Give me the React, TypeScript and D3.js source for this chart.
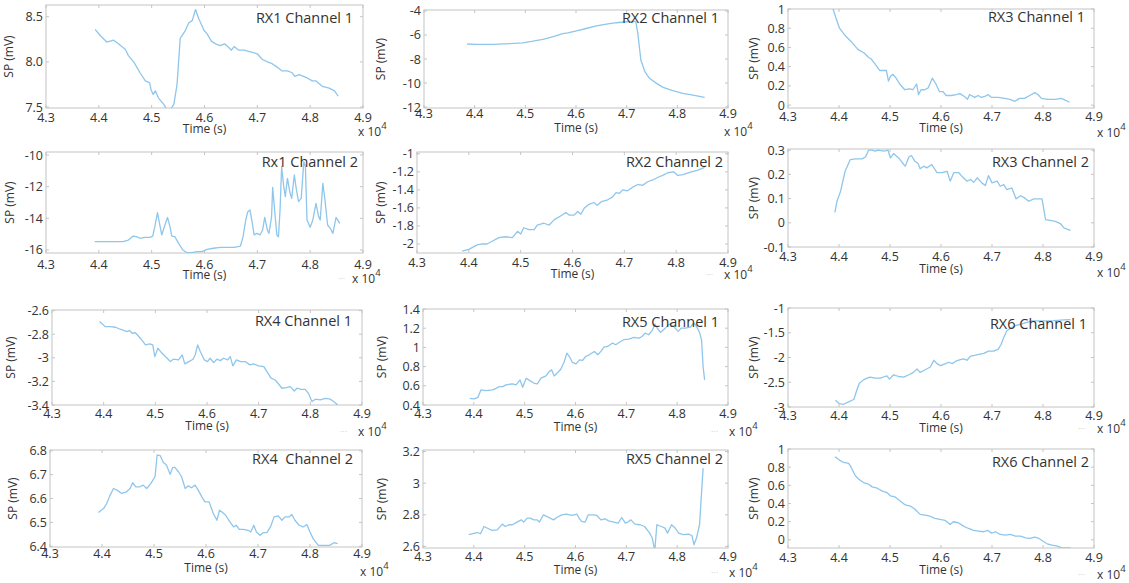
import React from "react";
import * as d3 from "d3";

// time values are in units of 10^4 s
const timeTicks = ["4.3", "4.4", "4.5", "4.6", "4.7", "4.8", "4.9"];

const rx1Ch1: [number, number][] = [
  [4.393, 8.36], [4.403, 8.29], [4.415, 8.22], [4.428, 8.24], [4.437, 8.2], [4.45, 8.14],
  [4.456, 8.07], [4.466, 8.0], [4.478, 7.88], [4.488, 7.79], [4.496, 7.77], [4.499, 7.69],
  [4.503, 7.64], [4.507, 7.68], [4.513, 7.6], [4.523, 7.53], [4.529, 7.47], [4.535, 7.47],
  [4.542, 7.53], [4.548, 7.75], [4.554, 8.26], [4.564, 8.35], [4.57, 8.43], [4.577, 8.46],
  [4.583, 8.58], [4.589, 8.48], [4.599, 8.35], [4.605, 8.31], [4.613, 8.23], [4.621, 8.2],
  [4.63, 8.18], [4.638, 8.2], [4.646, 8.16], [4.651, 8.13], [4.656, 8.17], [4.665, 8.13],
  [4.675, 8.13], [4.687, 8.11], [4.7, 8.09], [4.709, 8.03], [4.719, 8.0], [4.728, 7.98],
  [4.738, 7.94], [4.747, 7.9], [4.757, 7.9], [4.766, 7.88], [4.771, 7.84], [4.779, 7.86],
  [4.792, 7.83], [4.804, 7.79], [4.811, 7.79], [4.823, 7.73], [4.836, 7.71], [4.846, 7.68],
  [4.853, 7.62]
];

const rx2Ch1: [number, number][] = [
  [4.385, -6.75], [4.403, -6.78], [4.436, -6.78], [4.469, -6.72], [4.495, -6.66], [4.515, -6.52],
  [4.535, -6.36], [4.555, -6.14], [4.574, -5.88], [4.584, -5.82], [4.601, -5.66], [4.62, -5.46],
  [4.64, -5.24], [4.66, -5.1], [4.68, -4.98], [4.699, -4.9], [4.712, -4.86], [4.718, -4.89],
  [4.722, -5.86], [4.728, -8.08], [4.736, -9.06], [4.745, -9.61], [4.759, -10.03], [4.772, -10.36],
  [4.791, -10.64], [4.811, -10.86], [4.831, -11.0], [4.854, -11.19]
];

const rx3Ch1: [number, number][] = [
  [4.386, 1.04], [4.395, 0.89], [4.401, 0.8], [4.411, 0.73], [4.424, 0.66], [4.437, 0.58],
  [4.45, 0.54], [4.457, 0.5], [4.463, 0.48], [4.473, 0.41], [4.48, 0.36], [4.486, 0.36],
  [4.493, 0.36], [4.497, 0.25], [4.501, 0.3], [4.506, 0.32], [4.512, 0.28], [4.519, 0.22],
  [4.529, 0.16], [4.538, 0.17], [4.545, 0.16], [4.552, 0.22], [4.556, 0.11], [4.561, 0.16],
  [4.568, 0.16], [4.575, 0.18], [4.583, 0.28], [4.59, 0.22], [4.597, 0.14], [4.604, 0.14],
  [4.61, 0.1], [4.62, 0.1], [4.63, 0.11], [4.637, 0.12], [4.646, 0.09], [4.652, 0.06],
  [4.656, 0.11], [4.666, 0.08], [4.673, 0.1], [4.679, 0.08], [4.686, 0.09], [4.692, 0.11],
  [4.699, 0.08], [4.712, 0.08], [4.725, 0.07], [4.735, 0.06], [4.745, 0.04], [4.754, 0.07],
  [4.764, 0.07], [4.774, 0.1], [4.784, 0.13], [4.79, 0.11], [4.797, 0.07], [4.81, 0.06],
  [4.823, 0.06], [4.836, 0.07], [4.852, 0.03]
];

const rx1Ch2: [number, number][] = [
  [4.392, -15.47], [4.421, -15.47], [4.446, -15.47], [4.456, -15.37], [4.465, -15.12], [4.471, -15.16],
  [4.478, -15.26], [4.487, -15.2], [4.497, -15.2], [4.502, -15.12], [4.506, -14.53], [4.511, -13.64],
  [4.516, -14.53], [4.519, -15.05], [4.524, -14.53], [4.53, -13.94], [4.535, -14.57], [4.538, -15.12],
  [4.544, -15.16], [4.551, -15.58], [4.559, -16.0], [4.567, -16.17], [4.576, -16.17], [4.586, -16.1],
  [4.595, -16.1], [4.605, -15.96], [4.617, -15.89], [4.63, -15.83], [4.643, -15.83], [4.656, -15.83],
  [4.668, -15.75], [4.673, -15.16], [4.678, -14.11], [4.682, -13.58], [4.686, -13.47], [4.69, -14.21],
  [4.694, -15.05], [4.699, -14.95], [4.705, -15.05], [4.71, -14.74], [4.714, -13.94], [4.719, -14.74],
  [4.722, -14.95], [4.727, -13.89], [4.729, -12.04], [4.733, -13.58], [4.737, -15.05], [4.74, -15.16],
  [4.743, -13.47], [4.746, -10.74], [4.75, -12.0], [4.753, -12.63], [4.757, -11.47], [4.762, -12.42],
  [4.765, -12.74], [4.77, -11.26], [4.774, -12.21], [4.778, -12.95], [4.783, -12.74], [4.788, -10.42],
  [4.791, -10.74], [4.794, -14.11], [4.8, -14.57], [4.805, -14.11], [4.811, -13.05], [4.816, -13.89],
  [4.819, -14.11], [4.824, -11.79], [4.828, -12.84], [4.833, -14.42], [4.838, -14.63], [4.843, -14.95],
  [4.849, -13.94], [4.856, -14.32]
];

const rx2Ch2: [number, number][] = [
  [4.387, -2.08], [4.4, -2.06], [4.416, -2.01], [4.426, -2.0], [4.435, -2.0], [4.445, -1.97],
  [4.458, -1.93], [4.471, -1.92], [4.484, -1.93], [4.494, -1.86], [4.5, -1.89], [4.506, -1.82],
  [4.516, -1.84], [4.526, -1.84], [4.532, -1.79], [4.545, -1.77], [4.555, -1.79], [4.565, -1.73],
  [4.577, -1.69], [4.587, -1.65], [4.594, -1.68], [4.603, -1.68], [4.61, -1.64], [4.616, -1.67],
  [4.623, -1.6], [4.632, -1.56], [4.641, -1.54], [4.648, -1.57], [4.656, -1.53], [4.668, -1.51],
  [4.677, -1.48], [4.684, -1.43], [4.69, -1.44], [4.697, -1.4], [4.706, -1.41], [4.716, -1.37],
  [4.726, -1.34], [4.735, -1.35], [4.745, -1.31], [4.755, -1.29], [4.765, -1.26], [4.774, -1.24],
  [4.784, -1.21], [4.795, -1.2], [4.803, -1.24], [4.813, -1.23], [4.829, -1.2], [4.842, -1.18],
  [4.855, -1.15]
];

const rx3Ch2: [number, number][] = [
  [4.392, 0.043], [4.396, 0.089], [4.403, 0.13], [4.412, 0.213], [4.422, 0.261], [4.432, 0.264],
  [4.445, 0.264], [4.452, 0.272], [4.458, 0.3], [4.465, 0.3], [4.471, 0.296], [4.477, 0.3],
  [4.488, 0.296], [4.496, 0.3], [4.501, 0.268], [4.507, 0.286], [4.517, 0.268], [4.527, 0.241],
  [4.53, 0.234], [4.537, 0.272], [4.542, 0.278], [4.549, 0.254], [4.555, 0.245], [4.559, 0.223],
  [4.566, 0.234], [4.572, 0.227], [4.582, 0.241], [4.592, 0.207], [4.602, 0.207], [4.612, 0.213],
  [4.618, 0.172], [4.625, 0.207], [4.635, 0.207], [4.642, 0.19], [4.651, 0.172], [4.658, 0.179],
  [4.664, 0.167], [4.671, 0.186], [4.68, 0.165], [4.687, 0.154], [4.693, 0.195], [4.7, 0.165],
  [4.71, 0.172], [4.716, 0.151], [4.723, 0.158], [4.729, 0.137], [4.739, 0.144], [4.747, 0.099],
  [4.756, 0.112], [4.764, 0.103], [4.772, 0.089], [4.782, 0.099], [4.792, 0.099], [4.798, 0.099],
  [4.805, 0.013], [4.814, 0.01], [4.824, 0.006], [4.834, -0.003], [4.841, -0.021], [4.847, -0.026],
  [4.854, -0.031]
];

const rx4Ch1: [number, number][] = [
  [4.392, -2.693], [4.403, -2.736], [4.413, -2.736], [4.423, -2.741], [4.432, -2.758], [4.44, -2.769],
  [4.445, -2.778], [4.45, -2.769], [4.455, -2.792], [4.461, -2.786], [4.471, -2.834], [4.481, -2.891],
  [4.489, -2.882], [4.495, -2.891], [4.499, -2.99], [4.505, -2.919], [4.513, -2.962], [4.523, -3.004],
  [4.529, -3.032], [4.535, -3.012], [4.545, -3.018], [4.552, -2.976], [4.557, -3.052], [4.565, -3.032],
  [4.573, -3.012], [4.577, -2.976], [4.582, -2.891], [4.587, -2.947], [4.595, -3.018], [4.601, -3.032],
  [4.606, -3.004], [4.613, -3.041], [4.619, -3.012], [4.626, -3.024], [4.632, -3.004], [4.64, -3.018],
  [4.645, -2.99], [4.65, -3.069], [4.657, -3.018], [4.665, -3.032], [4.674, -3.032], [4.683, -3.06],
  [4.69, -3.052], [4.7, -3.069], [4.71, -3.075], [4.716, -3.117], [4.724, -3.173], [4.732, -3.188],
  [4.739, -3.224], [4.745, -3.258], [4.754, -3.253], [4.761, -3.244], [4.769, -3.281], [4.774, -3.258],
  [4.782, -3.267], [4.79, -3.267], [4.797, -3.306], [4.803, -3.371], [4.81, -3.351], [4.819, -3.357],
  [4.829, -3.343], [4.839, -3.351], [4.845, -3.371], [4.853, -3.399]
];

const rx5Ch1: [number, number][] = [
  [4.392, 0.47], [4.401, 0.463], [4.408, 0.48], [4.414, 0.557], [4.424, 0.55], [4.437, 0.557],
  [4.444, 0.574], [4.45, 0.592], [4.457, 0.592], [4.463, 0.609], [4.47, 0.616], [4.476, 0.62],
  [4.483, 0.609], [4.491, 0.661], [4.496, 0.585], [4.503, 0.679], [4.51, 0.654], [4.519, 0.626],
  [4.525, 0.62], [4.532, 0.679], [4.542, 0.703], [4.548, 0.748], [4.553, 0.766], [4.558, 0.703],
  [4.565, 0.738], [4.571, 0.773], [4.578, 0.853], [4.583, 0.94], [4.588, 0.905], [4.594, 0.843],
  [4.601, 0.829], [4.608, 0.87], [4.614, 0.864], [4.62, 0.905], [4.627, 0.923], [4.637, 0.958],
  [4.644, 0.923], [4.65, 0.958], [4.656, 1.003], [4.663, 1.01], [4.673, 1.045], [4.679, 1.028],
  [4.689, 1.062], [4.695, 1.08], [4.705, 1.086], [4.715, 1.104], [4.725, 1.097], [4.731, 1.114],
  [4.737, 1.149], [4.744, 1.132], [4.751, 1.177], [4.756, 1.243], [4.761, 1.201], [4.767, 1.156],
  [4.777, 1.201], [4.784, 1.243], [4.793, 1.219], [4.802, 1.167], [4.808, 1.201], [4.816, 1.201],
  [4.826, 1.212], [4.833, 1.254], [4.838, 1.219], [4.844, 1.156], [4.848, 1.08], [4.851, 0.801],
  [4.854, 0.661]
];

const rx6Ch1: [number, number][] = [
  [4.393, -2.863], [4.401, -2.932], [4.409, -2.945], [4.419, -2.897], [4.429, -2.849], [4.435, -2.658],
  [4.44, -2.521], [4.448, -2.452], [4.455, -2.418], [4.461, -2.397], [4.471, -2.418], [4.481, -2.418],
  [4.49, -2.384], [4.494, -2.37], [4.499, -2.438], [4.507, -2.349], [4.517, -2.384], [4.527, -2.397],
  [4.537, -2.349], [4.546, -2.301], [4.553, -2.233], [4.559, -2.301], [4.569, -2.247], [4.579, -2.192],
  [4.586, -2.055], [4.592, -2.123], [4.599, -2.164], [4.609, -2.123], [4.615, -2.096], [4.622, -2.123],
  [4.629, -2.075], [4.638, -2.041], [4.644, -2.027], [4.651, -2.055], [4.658, -1.973], [4.666, -1.959],
  [4.674, -1.938], [4.684, -1.918], [4.693, -1.87], [4.703, -1.87], [4.712, -1.836], [4.718, -1.733],
  [4.723, -1.596], [4.729, -1.459], [4.736, -1.411], [4.746, -1.356], [4.759, -1.322], [4.778, -1.26],
  [4.798, -1.26], [4.821, -1.255], [4.841, -1.24], [4.854, -1.235]
];

const rx4Ch2: [number, number][] = [
  [4.393, 6.541], [4.403, 6.558], [4.409, 6.579], [4.415, 6.611], [4.422, 6.642], [4.429, 6.635],
  [4.438, 6.621], [4.447, 6.628], [4.454, 6.642], [4.459, 6.666], [4.465, 6.649], [4.473, 6.649],
  [4.479, 6.656], [4.486, 6.642], [4.494, 6.663], [4.502, 6.691], [4.506, 6.782], [4.512, 6.779],
  [4.518, 6.751], [4.524, 6.74], [4.531, 6.701], [4.536, 6.73], [4.54, 6.73], [4.547, 6.712],
  [4.553, 6.691], [4.56, 6.642], [4.566, 6.653], [4.572, 6.645], [4.579, 6.656], [4.585, 6.635],
  [4.592, 6.607], [4.598, 6.586], [4.606, 6.586], [4.614, 6.537], [4.621, 6.509], [4.626, 6.551],
  [4.632, 6.541], [4.638, 6.53], [4.646, 6.502], [4.653, 6.481], [4.658, 6.488], [4.664, 6.471],
  [4.672, 6.471], [4.681, 6.467], [4.686, 6.46], [4.692, 6.488], [4.697, 6.46], [4.704, 6.446],
  [4.71, 6.457], [4.717, 6.457], [4.724, 6.481], [4.731, 6.523], [4.739, 6.527], [4.746, 6.509],
  [4.752, 6.523], [4.76, 6.523], [4.765, 6.533], [4.771, 6.509], [4.779, 6.488], [4.787, 6.481],
  [4.794, 6.491], [4.8, 6.46], [4.806, 6.432], [4.816, 6.404], [4.826, 6.404], [4.838, 6.404],
  [4.846, 6.415], [4.853, 6.411]
];

const rx5Ch2: [number, number][] = [
  [4.39, 2.674], [4.4, 2.682], [4.407, 2.688], [4.413, 2.68], [4.42, 2.726], [4.429, 2.712],
  [4.436, 2.701], [4.446, 2.705], [4.456, 2.741], [4.462, 2.726], [4.469, 2.737], [4.476, 2.737],
  [4.485, 2.754], [4.493, 2.768], [4.498, 2.754], [4.505, 2.779], [4.511, 2.779], [4.518, 2.768],
  [4.524, 2.768], [4.529, 2.754], [4.537, 2.8], [4.544, 2.789], [4.55, 2.779], [4.557, 2.768],
  [4.563, 2.783], [4.573, 2.8], [4.582, 2.804], [4.593, 2.796], [4.603, 2.804], [4.607, 2.779],
  [4.612, 2.758], [4.619, 2.754], [4.625, 2.8], [4.635, 2.8], [4.642, 2.796], [4.65, 2.768],
  [4.658, 2.775], [4.665, 2.762], [4.675, 2.754], [4.684, 2.747], [4.691, 2.783], [4.698, 2.747],
  [4.703, 2.754], [4.709, 2.768], [4.717, 2.741], [4.727, 2.737], [4.736, 2.726], [4.746, 2.684],
  [4.751, 2.653], [4.756, 2.575], [4.76, 2.737], [4.769, 2.726], [4.776, 2.716], [4.781, 2.684],
  [4.789, 2.737], [4.795, 2.72], [4.803, 2.684], [4.812, 2.674], [4.822, 2.678], [4.829, 2.669],
  [4.833, 2.611], [4.838, 2.653], [4.844, 2.737], [4.851, 3.095]
];

const rx6Ch2: [number, number][] = [
  [4.392, 0.915], [4.401, 0.878], [4.409, 0.852], [4.419, 0.841], [4.424, 0.797], [4.432, 0.705],
  [4.439, 0.668], [4.448, 0.631], [4.458, 0.613], [4.465, 0.583], [4.475, 0.568], [4.484, 0.539],
  [4.494, 0.52], [4.501, 0.483], [4.51, 0.472], [4.52, 0.428], [4.53, 0.384], [4.54, 0.372],
  [4.549, 0.336], [4.559, 0.28], [4.569, 0.273], [4.578, 0.262], [4.588, 0.236], [4.598, 0.225],
  [4.608, 0.214], [4.618, 0.17], [4.624, 0.199], [4.634, 0.188], [4.644, 0.151], [4.654, 0.125],
  [4.664, 0.103], [4.674, 0.096], [4.684, 0.089], [4.692, 0.103], [4.699, 0.074], [4.707, 0.089],
  [4.716, 0.059], [4.726, 0.052], [4.736, 0.059], [4.746, 0.041], [4.756, 0.041], [4.766, 0.022],
  [4.775, 0.015], [4.784, 0.03], [4.792, 0.015], [4.798, -0.007], [4.808, -0.044], [4.818, -0.059],
  [4.828, -0.07], [4.837, -0.089], [4.854, -0.089]
];

const titles = [
  "RX1 Channel 1", "RX2 Channel 1", "RX3 Channel 1",
  "Rx1 Channel 2", "RX2 Channel 2", "RX3 Channel 2",
  "RX4 Channel 1", "RX5 Channel 1", "RX6 Channel 1",
  "RX4  Channel 2", "RX5 Channel 2", "RX6 Channel 2"
];

const series = [rx1Ch1, rx2Ch1, rx3Ch1, rx1Ch2, rx2Ch2, rx3Ch2, rx4Ch1, rx5Ch1, rx6Ch1, rx4Ch2, rx5Ch2, rx6Ch2];

const yTickLabels = [
  ["8.5", "8.0", "7.5"],
  ["-4", "-6", "-8", "-10", "-12"],
  ["1", "0.8", "0.6", "0.4", "0.2", "0"],
  ["-10", "-12", "-14", "-16"],
  ["-1", "-1.2", "-1.4", "-1.6", "-1.8", "-2"],
  ["0.3", "0.2", "0.1", "0", "-0.1"],
  ["-2.6", "-2.8", "-3", "-3.2", "-3.4"],
  ["1.4", "1.2", "1", "0.8", "0.6", "0.4"],
  ["-1", "-1.5", "-2", "-2.5", "-3"],
  ["6.8", "6.7", "6.6", "6.5", "6.4"],
  ["3.2", "3", "2.8", "2.6"],
  ["1", "0.8", "0.6", "0.4", "0.2", "0"]
];

const yDomains: [number, number][] = [
  [7.49, 8.63], [-12.08, -3.92], [-0.03, 1],
  [-16.19, -9.81], [-2.1, -0.98], [-0.1, 0.305],
  [-3.4, -2.595], [0.4, 1.4], [-3, -1],
  [6.397, 6.803], [2.59, 3.21], [-0.09, 1]
];

// plot boxes in page pixels: l, r, t, b, plus label offsets
const boxes = [
  { l: 46, r: 363, t: 5, b: 108, lab: 33, tk: 14, tm: 25, px: 358, pdy: 28, tdy: 18, tdx: 10, ghost: 0 },
  { l: 424, r: 728, t: 10, b: 108, lab: 39, tk: 10, tm: 24, px: 724, pdy: 28, tdy: 13, tdx: 9, ghost: 0 },
  { l: 788, r: 1094, t: 9, b: 108, lab: 30, tk: 13, tm: 24, px: 1097, pdy: 29, tdy: 13, tdx: 9, ghost: 0 },
  { l: 46, r: 363, t: 152, b: 253, lab: 32, tk: 16, tm: 26, px: 352, pdy: 30, tdy: 15, tdx: 5, ghost: 338 },
  { l: 417, r: 728, t: 152, b: 253, lab: 32, tk: 14, tm: 25, px: 724, pdy: 26, tdy: 15, tdx: 5, ghost: 706 },
  { l: 788, r: 1094, t: 149, b: 247, lab: 30, tk: 14, tm: 26, px: 1097, pdy: 30, tdy: 18, tdx: 5, ghost: 0 },
  { l: 52, r: 362, t: 310, b: 405, lab: 37, tk: 13, tm: 25, px: 358, pdy: 31, tdy: 16, tdx: 10, ghost: 340 },
  { l: 423, r: 728, t: 309, b: 405, lab: 37, tk: 13, tm: 26, px: 729, pdy: 31, tdy: 18, tdx: 9, ghost: 711 },
  { l: 788, r: 1094, t: 308, b: 407, lab: 30, tk: 13, tm: 25, px: 1097, pdy: 26, tdy: 21, tdx: 7, ghost: 1078 },
  { l: 50, r: 362, t: 450, b: 547, lab: 33, tk: 11, tm: 25, px: 360, pdy: 29, tdy: 14, tdx: 9, ghost: 0 },
  { l: 423, r: 728, t: 450, b: 548, lab: 37, tk: 13, tm: 26, px: 729, pdy: 29, tdy: 14, tdx: 5, ghost: 711 },
  { l: 788, r: 1094, t: 449, b: 548, lab: 30, tk: 14, tm: 26, px: 1097, pdy: 31, tdy: 18, tdx: 5, ghost: 1078 }
];

const font = "'Open Sans', 'Liberation Sans', sans-serif";
const textColor = "#333";
const boxColor = "#c4c4c4";
const lineColor = "#8ec6ec";

function Panel({ i }: { i: number }) {
  const b = boxes[i];
  const x = d3.scaleLinear().domain([4.3, 4.9]).range([b.l, b.r]);
  const y = d3.scaleLinear().domain(yDomains[i]).range([b.b, b.t]);
  const line = d3
    .line<[number, number]>()
    .x(d => x(d[0]))
    .y(d => y(d[1]));
  const clipId = "clip" + i;
  const tl = 3;

  return (
    <g>
      <clipPath id={clipId}>
        <rect x={b.l} y={b.t} width={b.r - b.l} height={b.b - b.t} />
      </clipPath>
      <rect x={b.l} y={b.t} width={b.r - b.l} height={b.b - b.t} fill="#fff" stroke={boxColor} strokeWidth={1} />
      {timeTicks.map(t => (
        <g key={t}>
          <line x1={x(+t)} x2={x(+t)} y1={b.b} y2={b.b - tl} stroke={boxColor} />
          <line x1={x(+t)} x2={x(+t)} y1={b.t} y2={b.t + tl} stroke={boxColor} />
          <text x={x(+t)} y={b.b + b.tk} textAnchor="middle" fontSize={12.5} fill={textColor}>
            {t}
          </text>
        </g>
      ))}
      {yTickLabels[i].map(v => (
        <g key={v}>
          <line x1={b.l} x2={b.l + tl} y1={y(+v)} y2={y(+v)} stroke={boxColor} />
          <line x1={b.r} x2={b.r - tl} y1={y(+v)} y2={y(+v)} stroke={boxColor} />
          <text x={b.l - 3} y={y(+v) + 4.5} textAnchor="end" fontSize={12.5} fill={textColor}>
            {v}
          </text>
        </g>
      ))}
      <path
        d={line(series[i]) || ""}
        fill="none"
        stroke={lineColor}
        strokeWidth={1.3}
        strokeLinejoin="round"
        clipPath={`url(#${clipId})`}
      />
      <text
        x={b.r - b.tdx}
        y={b.t + b.tdy}
        textAnchor="end"
        fontSize={14.5}
        fill={textColor}
        style={{ whiteSpace: "pre" }}
      >
        {titles[i]}
      </text>
      <text
        transform={`translate(${b.l - b.lab},${(b.t + b.b) / 2}) rotate(-90)`}
        textAnchor="middle"
        fontSize={12}
        fill={textColor}
      >
        SP (mV)
      </text>
      <text x={(b.l + b.r) / 2} y={b.b + b.tm} textAnchor="middle" fontSize={12} fill={textColor}>
        Time (s)
      </text>
      {b.ghost > 0 && (
        <text x={b.ghost} y={b.b + b.pdy - 1} fontSize={9} fill="#cfcfcf">
          ···
        </text>
      )}
      <text x={b.px} y={b.b + b.pdy} fontSize={12} fill={textColor}>
        x 10
        <tspan dy={-7} fontSize={9.5}>
          4
        </tspan>
      </text>
    </g>
  );
}

export default function App() {
  return (
    <svg
      width={1129}
      height={583}
      style={{ position: "absolute", left: 0, top: 0, background: "#fff", fontFamily: font }}
    >
      {boxes.map((_, i) => (
        <Panel key={i} i={i} />
      ))}
    </svg>
  );
}
